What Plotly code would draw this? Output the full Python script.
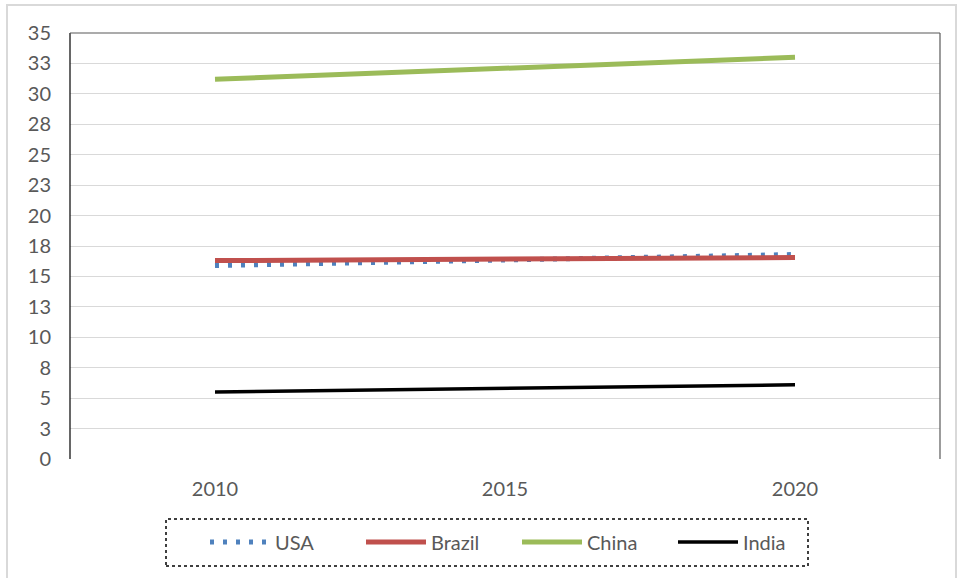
import plotly.graph_objects as go

years = ["2010", "2015", "2020"]
usa = [15.9, 16.35, 16.8]
brazil = [16.3, 16.45, 16.55]
china = [31.2, 32.1, 33.0]
india = [5.5, 5.8, 6.1]

ytickvals = [0, 2.5, 5, 7.5, 10, 12.5, 15, 17.5, 20, 22.5, 25, 27.5, 30, 32.5, 35]
yticktext = ["0", "3", "5", "8", "10", "13", "15", "18", "20", "23", "25", "28", "30", "33", "35"]

W, H = 957, 578
L, R, T, B = 70, 17, 33, 119
pw, ph = W - L - R, H - T - B

def px(x):
    return (x - L) / pw

def py(y):
    return (H - B - y) / ph

fig = go.Figure()
fig.add_trace(go.Scatter(x=years, y=usa, name="USA", mode="lines",
                         line=dict(color="#4f81bd", width=5, dash="4px,9px")))
fig.add_trace(go.Scatter(x=years, y=brazil, name="Brazil", mode="lines",
                         line=dict(color="#c0504d", width=5)))
fig.add_trace(go.Scatter(x=years, y=china, name="China", mode="lines",
                         line=dict(color="#9bbb59", width=5)))
fig.add_trace(go.Scatter(x=years, y=india, name="India", mode="lines",
                         line=dict(color="#000000", width=3.5)))

font = dict(family="Lato, Open Sans, sans-serif", size=20, color="#595959")

fig.update_layout(
    width=W, height=H,
    margin=dict(l=L, r=R, t=T, b=B, autoexpand=False),
    paper_bgcolor="white", plot_bgcolor="white",
    font=font,
    showlegend=True,
    legend=dict(orientation="h", x=px(205), y=py(542), xanchor="left", yanchor="middle",
                font=dict(family="Lato, Open Sans, sans-serif", size=20, color="#595959"),
                itemwidth=60, entrywidth=81, entrywidthmode="pixels",
                bgcolor="rgba(0,0,0,0)"),
    xaxis=dict(type="category", range=[-0.5, 2.5], showgrid=False, zeroline=False,
               showline=False, ticks="", ticklabelstandoff=16, tickfont=font),
    yaxis=dict(range=[0, 35], tickvals=ytickvals, ticktext=yticktext,
               showgrid=True, gridcolor="#d9d9d9", gridwidth=1, zeroline=False,
               showline=False, ticks="", ticklabelstandoff=18, tickfont=font),
    shapes=[
        dict(type="rect", xref="paper", yref="paper",
             x0=px(7), x1=px(956), y0=py(590), y1=py(5),
             line=dict(color="#d9d9d9", width=2), layer="below"),
        dict(type="line", xref="paper", yref="paper", x0=0, x1=0, y0=0, y1=1,
             line=dict(color="#000000", width=1.2)),
        dict(type="line", xref="paper", yref="paper", x0=0, x1=1, y0=1, y1=1,
             line=dict(color="#595959", width=1.2)),
        dict(type="line", xref="paper", yref="paper", x0=1, x1=1, y0=0, y1=1,
             line=dict(color="#595959", width=1.2)),
        dict(type="rect", xref="paper", yref="paper",
             x0=px(166), x1=px(808), y0=py(566), y1=py(519),
             line=dict(color="#000000", width=1.5, dash="dot")),
    ],
)

fig.write_html("out.html")
